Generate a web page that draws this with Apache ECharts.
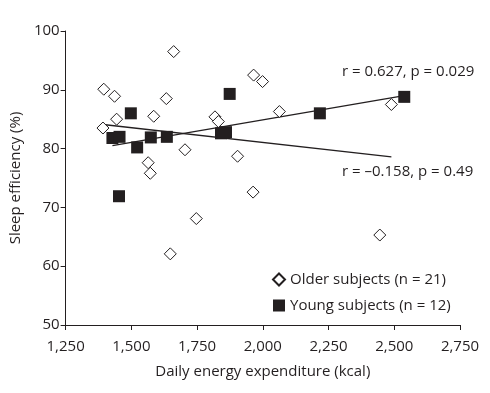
<!DOCTYPE html>
<html>
<head>
<meta charset="utf-8">
<script src="https://cdn.jsdelivr.net/npm/echarts@6/dist/echarts.min.js"></script>
<style>
html,body{margin:0;padding:0;background:#fff;}
#c{width:490px;height:393px;}
</style>
</head>
<body>
<div id="c"></div>
<script>
// Older subjects: [energy kcal, sleep efficiency %]
const olderX = [1395, 1436, 1661, 1633, 1444, 1585, 1392, 1818, 1831, 1704, 1564, 1572, 1904, 1963, 1747, 1648, 1965, 1999, 2063, 2489, 2445];
const olderY = [90.1, 88.9, 96.5, 88.5, 85.0, 85.5, 83.5, 85.4, 84.6, 79.8, 77.6, 75.8, 78.7, 72.6, 68.1, 62.1, 92.5, 91.4, 86.3, 87.5, 65.3];
// Young subjects
const youngX = [1428, 1455, 1453, 1498, 1522, 1574, 1635, 1841, 1860, 1874, 2217, 2538];
const youngY = [81.8, 82.0, 71.9, 86.0, 80.2, 81.9, 82.0, 82.6, 82.8, 89.3, 86.0, 88.8];
// Regression line endpoints
const youngFitX = [1428, 2538];
const youngFitY = [80.5, 89.0];
const olderFitX = [1392, 2489];
const olderFitY = [84.1, 78.6];
const xTicks = ['1,250', '1,500', '1,750', '2,000', '2,250', '2,500', '2,750'];
const seriesNames = ['Older subjects (n = 21)', 'Young subjects (n = 12)'];
const annotations = ['r = 0.627, p = 0.029', 'r = \u20130.158, p = 0.49'];

const zip = (a, b) => a.map((v, i) => [v, b[i]]);
const ink = '#231f20';
const font = 'Open Sans';
const fs = 15;

const chart = echarts.init(document.getElementById('c'), null, {renderer: 'canvas'});
chart.setOption({
  animation: false,
  backgroundColor: '#fff',
  textStyle: {fontFamily: font, color: ink},
  grid: {left: 63, right: 30, top: 31, bottom: 68},
  xAxis: {
    type: 'value', min: 1250, max: 2750, interval: 250,
    name: 'Daily energy expenditure (kcal)', nameLocation: 'middle', nameGap: 39,
    nameTextStyle: {fontSize: fs, color: ink, fontFamily: font},
    axisLine: {lineStyle: {color: ink, width: 1}},
    axisTick: {show: true, length: 5, lineStyle: {color: ink}},
    axisLabel: {fontSize: fs, color: ink, fontFamily: font, margin: 14,
      formatter: v => xTicks[Math.round((v - 1250) / 250)] || ''},
    splitLine: {show: false}
  },
  yAxis: {
    type: 'value', min: 50, max: 100, interval: 10,
    name: 'Sleep efficiency (%)', nameLocation: 'middle', nameGap: 41,
    nameTextStyle: {fontSize: fs, color: ink, fontFamily: font},
    axisLine: {show: true, lineStyle: {color: ink, width: 1}},
    axisTick: {show: true, length: 5, lineStyle: {color: ink}},
    axisLabel: {fontSize: fs, color: ink, fontFamily: font, margin: 6},
    splitLine: {show: false}
  },
  legend: {
    data: seriesNames,
    orient: 'vertical', left: 267, top: 267,
    itemWidth: 12, itemHeight: 12, itemGap: 11,
    textStyle: {fontSize: fs, color: ink, fontFamily: font}
  },
  series: [
    {
      name: 'olderFit', type: 'line', data: zip(olderFitX, olderFitY),
      symbol: 'none', lineStyle: {color: ink, width: 1.3}, z: 1, silent: true
    },
    {
      name: 'youngFit', type: 'line', data: zip(youngFitX, youngFitY),
      symbol: 'none', lineStyle: {color: ink, width: 1.3}, z: 1, silent: true
    },
    {
      name: seriesNames[0], type: 'scatter', data: zip(olderX, olderY),
      symbol: 'diamond', symbolSize: 12,
      itemStyle: {color: '#fff', borderColor: ink, borderWidth: 1, opacity: 1}, z: 3
    },
    {
      name: seriesNames[1], type: 'scatter', data: zip(youngX, youngY),
      symbol: 'rect', symbolSize: 12,
      itemStyle: {color: ink, opacity: 1}, z: 4
    }
  ],
  graphic: [
    {type: 'text', left: 342, top: 64, style: {text: annotations[0], font: fs + 'px "Open Sans"', fill: ink}},
    {type: 'text', left: 342, top: 164, style: {text: annotations[1], font: fs + 'px "Open Sans"', fill: ink}}
  ]
});
</script>
</body>
</html>
